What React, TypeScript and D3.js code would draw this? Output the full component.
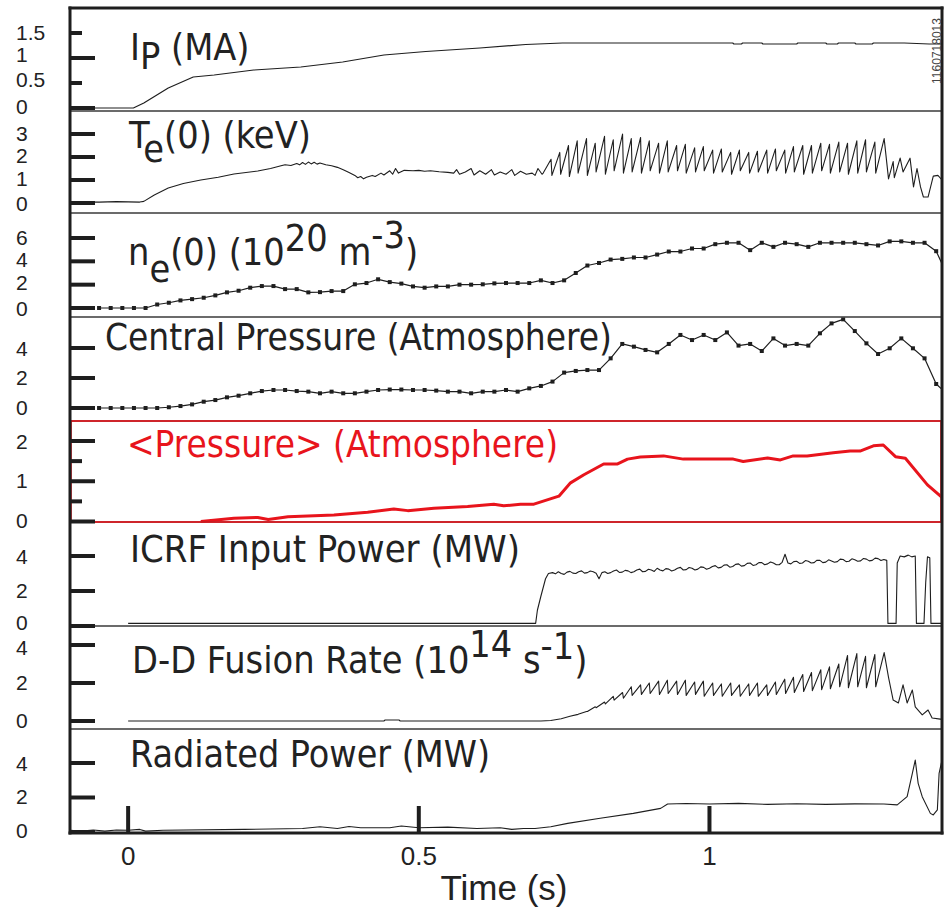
import React from "react";
import * as d3 from "d3";

// ---------------- data ----------------
const ipData: [number, number][] = [
  [-0.1, 0], [0.009, 0], [0.027, 0.1], [0.069, 0.4], [0.112, 0.62], [0.148, 0.66], [0.216, 0.76],
  [0.297, 0.82], [0.369, 0.92], [0.44, 1.06], [0.512, 1.13], [0.605, 1.2], [0.684, 1.27], [0.747, 1.3],
  [1.04, 1.3], [1.042, 1.28], [1.055, 1.28], [1.057, 1.3], [1.09, 1.3], [1.092, 1.28], [1.15, 1.28],
  [1.152, 1.3], [1.2, 1.3], [1.202, 1.28], [1.22, 1.28], [1.222, 1.3], [1.25, 1.3], [1.252, 1.28],
  [1.28, 1.28], [1.282, 1.3], [1.335, 1.3], [1.378, 1.28], [1.4, 1.28],
];

const teLead: [number, number][] = [
  [-0.1, 0.05], [-0.05, 0.04], [-0.02, 0.06], [0.0, 0.05], [0.02, 0.04], [0.027, 0.07], [0.045, 0.35],
  [0.069, 0.65], [0.095, 0.85], [0.125, 1.0], [0.155, 1.12], [0.182, 1.26], [0.223, 1.39], [0.245, 1.5],
  [0.263, 1.62], [0.27, 1.66], [0.28, 1.63], [0.29, 1.72], [0.295, 1.66], [0.3, 1.76], [0.305, 1.68],
  [0.31, 1.78], [0.315, 1.7], [0.32, 1.77], [0.325, 1.69], [0.33, 1.74], [0.34, 1.66], [0.35, 1.62],
  [0.36, 1.55], [0.37, 1.45], [0.38, 1.33], [0.39, 1.2], [0.395, 1.1], [0.4, 1.15], [0.405, 1.05],
  [0.41, 1.12], [0.42, 1.2], [0.425, 1.15], [0.435, 1.3], [0.44, 1.22], [0.45, 1.4], [0.455, 1.25],
  [0.46, 1.5], [0.465, 1.3], [0.475, 1.42], [0.49, 1.4], [0.5, 1.42], [0.51, 1.38], [0.52, 1.4],
  [0.535, 1.36], [0.55, 1.33], [0.56, 1.3], [0.565, 1.45], [0.57, 1.25], [0.58, 1.35], [0.59, 1.5],
  [0.595, 1.22], [0.605, 1.4], [0.615, 1.25], [0.625, 1.45], [0.63, 1.22], [0.64, 1.35], [0.65, 1.25],
  [0.66, 1.45], [0.665, 1.2], [0.675, 1.38], [0.685, 1.25], [0.695, 1.3], [0.7, 1.2], [0.705, 1.5],
  [0.712, 1.25],
];

// sawtooth crash times (s)
const sawCrash = [
  0.714, 0.729, 0.744, 0.759, 0.774, 0.79, 0.805, 0.821, 0.836, 0.852, 0.867, 0.883, 0.898, 0.914,
  0.929, 0.945, 0.96, 0.976, 0.991, 1.007, 1.022, 1.038, 1.053, 1.069, 1.084, 1.1, 1.115, 1.131,
  1.146, 1.162, 1.177, 1.193, 1.208, 1.224, 1.239, 1.255, 1.27, 1.286, 1.302,
];
const tePeak = [
  1.9, 2.2, 2.5, 2.7, 2.8, 2.6, 2.9, 2.75, 3.0, 2.8, 2.85, 2.7, 2.6, 2.7, 2.5, 2.55, 2.4, 2.45, 2.3,
  2.35, 2.2, 2.3, 2.2, 2.25, 2.3, 2.35, 2.3, 2.45, 2.5, 2.5, 2.6, 2.55, 2.65, 2.6, 2.7, 2.75, 2.65, 2.8,
];
const teTrough = [
  1.3, 1.2, 1.25, 1.15, 1.3, 1.2, 1.35, 1.25, 1.4, 1.3, 1.35, 1.3, 1.4, 1.3, 1.35, 1.4, 1.3, 1.35, 1.4,
  1.3, 1.35, 1.25, 1.4, 1.3, 1.35, 1.3, 1.4, 1.3, 1.35, 1.25, 1.3, 1.4, 1.3, 1.35, 1.25, 1.3, 1.35, 1.3,
];
const teTail: [number, number][] = [
  [1.308, 1.05], [1.316, 1.8], [1.318, 1.1], [1.328, 1.95], [1.333, 1.35], [1.345, 1.95], [1.351, 0.7],
  [1.357, 1.5], [1.363, 0.7], [1.368, 0.26], [1.376, 0.26], [1.385, 1.17], [1.393, 1.2], [1.4, 1.0],
];

// Thomson profile times (s)
const profT = [
  -0.05, -0.03, -0.01, 0.01, 0.03, 0.05, 0.07, 0.09, 0.11, 0.13, 0.15, 0.17, 0.19, 0.21, 0.23, 0.25,
  0.27, 0.29, 0.31, 0.33, 0.35, 0.37, 0.39, 0.41, 0.43, 0.45, 0.47, 0.49, 0.51, 0.53, 0.55, 0.57, 0.59,
  0.61, 0.63, 0.65, 0.67, 0.69, 0.71, 0.73, 0.75, 0.77, 0.79, 0.81, 0.83, 0.85, 0.87, 0.89, 0.91, 0.93,
  0.95, 0.97, 0.99, 1.01, 1.03, 1.05, 1.07, 1.09, 1.11, 1.13, 1.15, 1.17, 1.19, 1.21, 1.23, 1.25, 1.27,
  1.29, 1.31, 1.33, 1.35, 1.37, 1.39,
];
const neV = [
  0, 0, 0, 0, 0, 0.3, 0.45, 0.65, 0.76, 0.88, 1.08, 1.34, 1.48, 1.74, 1.88, 1.88, 1.62, 1.62, 1.34, 1.36,
  1.45, 1.45, 2.03, 2.14, 2.46, 2.22, 2.09, 1.85, 1.74, 1.85, 1.85, 2.0, 2.0, 2.03, 2.11, 2.14, 2.14,
  2.14, 2.37, 2.14, 2.37, 3.0, 3.64, 3.86, 4.15, 4.21, 4.33, 4.33, 4.58, 4.84, 4.84, 5.1, 5.1, 5.47,
  5.59, 5.59, 4.96, 5.59, 5.24, 5.59, 5.47, 5.24, 5.59, 5.59, 5.59, 5.59, 5.47, 5.36, 5.71, 5.71, 5.59,
  5.59, 4.87,
];
const neEnd: [number, number] = [1.4, 3.8];
const cpV = [
  0, 0, 0, 0, 0, 0, 0.05, 0.13, 0.24, 0.42, 0.53, 0.71, 0.82, 0.98, 1.13, 1.2, 1.2, 1.13, 1.09, 0.98,
  1.09, 0.98, 0.98, 1.09, 1.2, 1.23, 1.23, 1.2, 1.2, 1.16, 1.09, 1.09, 0.98, 1.09, 1.09, 1.2, 1.09, 1.31,
  1.47, 1.76, 2.36, 2.47, 2.53, 2.53, 3.31, 4.27, 4.09, 3.87, 3.71, 4.27, 4.87, 4.53, 4.87, 4.53, 5.04,
  4.16, 4.27, 3.8, 4.64, 4.16, 4.27, 4.16, 4.98, 5.64, 5.91, 5.13, 4.31, 3.6, 3.98, 4.64, 3.98, 3.31, 1.6,
];
const cpEnd: [number, number] = [1.4, 1.24];

const pavgData: [number, number][] = [
  [0.125, 0], [0.182, 0.08], [0.223, 0.1], [0.241, 0.05], [0.275, 0.12], [0.354, 0.16], [0.412, 0.23],
  [0.457, 0.31], [0.481, 0.27], [0.526, 0.33], [0.584, 0.37], [0.629, 0.43], [0.646, 0.39], [0.675, 0.43],
  [0.698, 0.43], [0.741, 0.63], [0.761, 0.96], [0.784, 1.16], [0.818, 1.43], [0.842, 1.43], [0.859, 1.55],
  [0.881, 1.6], [0.921, 1.63], [0.955, 1.55], [1.041, 1.55], [1.058, 1.49], [1.1, 1.58], [1.122, 1.53],
  [1.144, 1.63], [1.168, 1.63], [1.213, 1.71], [1.242, 1.75], [1.259, 1.75], [1.282, 1.88], [1.299, 1.9],
  [1.32, 1.61], [1.337, 1.57], [1.375, 0.91], [1.4, 0.6],
];

const icrfData: [number, number][] = [
  [0, 0.15], [0.701, 0.15], [0.704, 0.9], [0.71, 1.7], [0.718, 2.7], [0.723, 3.0],
  [0.73, 3.05], [0.735, 2.98], [0.74, 3.1], [0.745, 3.0], [0.75, 2.95], [0.755, 3.08], [0.76, 3.12],
  [0.765, 3.02], [0.77, 3.0], [0.775, 3.1], [0.78, 3.15], [0.785, 3.02], [0.79, 3.05], [0.795, 3.14],
  [0.8, 3.1], [0.805, 3.02], [0.81, 2.7], [0.815, 3.05], [0.82, 3.1], [0.825, 3.0], [0.83, 3.05],
  [0.835, 3.14], [0.84, 3.2], [0.845, 3.06], [0.85, 3.08], [0.855, 3.18], [0.86, 3.15], [0.865, 3.05],
  [0.87, 3.1], [0.875, 3.2], [0.88, 3.25], [0.885, 3.1], [0.89, 3.12], [0.895, 3.24], [0.9, 3.2],
  [0.905, 3.12], [0.91, 3.3], [0.915, 3.2], [0.92, 3.15], [0.925, 3.28], [0.93, 3.25], [0.935, 3.14],
  [0.94, 3.2], [0.945, 3.3], [0.95, 3.35], [0.955, 3.2], [0.96, 3.22], [0.965, 3.34], [0.97, 3.3],
  [0.975, 3.2], [0.98, 3.25], [0.985, 3.38], [0.99, 3.35], [0.995, 3.24], [1.0, 3.3], [1.005, 3.4],
  [1.01, 3.45], [1.015, 3.32], [1.02, 3.35], [1.025, 3.48], [1.03, 3.5], [1.035, 3.36], [1.04, 3.4],
  [1.045, 3.52], [1.05, 3.55], [1.055, 3.42], [1.06, 3.45], [1.065, 3.58], [1.07, 3.6], [1.075, 3.46],
  [1.08, 3.5], [1.085, 3.62], [1.09, 3.62], [1.095, 3.5], [1.1, 3.55], [1.105, 3.66], [1.11, 3.6],
  [1.115, 3.5], [1.12, 3.5], [1.125, 3.64], [1.13, 4.1], [1.135, 3.6], [1.14, 3.55], [1.145, 3.68],
  [1.15, 3.7], [1.155, 3.58], [1.16, 3.6], [1.165, 3.74], [1.17, 3.7], [1.175, 3.6], [1.18, 3.62],
  [1.185, 3.76], [1.19, 3.75], [1.195, 3.62], [1.2, 3.65], [1.205, 3.78], [1.21, 3.72], [1.215, 3.64],
  [1.22, 3.68], [1.225, 3.82], [1.23, 3.8], [1.235, 3.68], [1.24, 3.7], [1.245, 3.84], [1.25, 3.78],
  [1.255, 3.7], [1.26, 3.72], [1.265, 3.86], [1.27, 3.82], [1.275, 3.72], [1.28, 3.75], [1.285, 3.88],
  [1.29, 3.85], [1.295, 3.74], [1.3, 3.8], [1.305, 3.75], [1.307, 0.15], [1.321, 0.15], [1.323, 3.6],
  [1.328, 4.0], [1.335, 3.95], [1.342, 4.05], [1.348, 3.95], [1.354, 4.0], [1.356, 0.15], [1.369, 0.15],
  [1.372, 2.5], [1.375, 3.95], [1.379, 3.9], [1.381, 0.15], [1.4, 0.15],
];

const ddLead: [number, number][] = [
  [0, 0], [0.44, 0], [0.442, 0.05], [0.466, 0.05], [0.468, 0], [0.71, 0], [0.727, 0.03], [0.745, 0.12],
  [0.76, 0.25],
];
const ddPeak = [
  0.5, 0.75, 1.0, 1.3, 1.5, 1.8, 1.9, 2.0, 2.1, 2.15, 2.1, 2.15, 2.05, 2.1, 2.0, 1.95, 2.0, 1.9, 1.95, 2.0,
  1.9, 2.05, 2.2, 2.3, 2.45, 2.55, 2.7, 2.85, 3.0, 3.45, 3.55, 3.4, 3.5, 3.6,
];
const ddTrough = [
  0.35, 0.5, 0.7, 0.9, 1.1, 1.2, 1.35, 1.4, 1.45, 1.4, 1.45, 1.4, 1.35, 1.4, 1.3, 1.35, 1.3, 1.35, 1.3,
  1.35, 1.3, 1.35, 1.4, 1.45, 1.5, 1.55, 1.6, 1.65, 1.7, 1.8, 1.75, 1.8, 1.75, 1.8,
];
const ddTail: [number, number][] = [
  [1.308, 2.3], [1.316, 1.1], [1.325, 0.95], [1.333, 1.9], [1.34, 0.95], [1.349, 1.63], [1.354, 0.74],
  [1.366, 0.32], [1.376, 0.58], [1.383, 0.16], [1.397, 0.1], [1.4, 0.1],
];

const pradData: [number, number][] = [
  [-0.1, 0.1], [-0.08, 0.05], [-0.06, 0.12], [-0.04, 0.05], [-0.02, 0.12], [0.0, 0.1], [0.02, 0.15],
  [0.03, 0.05], [0.06, 0.1], [0.2, 0.15], [0.3, 0.2], [0.33, 0.3], [0.36, 0.2], [0.38, 0.32], [0.4, 0.25],
  [0.45, 0.25], [0.47, 0.35], [0.5, 0.25], [0.55, 0.28], [0.6, 0.2], [0.64, 0.25], [0.66, 0.15],
  [0.68, 0.2], [0.7, 0.2], [0.727, 0.3], [0.756, 0.5], [0.812, 0.8], [0.869, 1.08], [0.916, 1.37],
  [0.928, 1.62], [0.96, 1.65], [1.0, 1.62], [1.05, 1.66], [1.1, 1.6], [1.15, 1.64], [1.2, 1.6],
  [1.25, 1.63], [1.3, 1.62], [1.323, 1.57], [1.34, 2.05], [1.349, 3.4], [1.354, 4.17], [1.359, 2.82],
  [1.366, 2.05], [1.38, 1.08], [1.385, 0.99], [1.392, 1.28], [1.395, 3.4], [1.4, 4.17],
];

const xTicks = [0, 0.5, 1];
const xTickLabels = ["0", "0.5", "1"];

// ---------------- helpers ----------------
function sawtooth(crash: number[], peaks: number[], troughs: number[]): [number, number][] {
  const pts: [number, number][] = [];
  for (let i = 0; i < peaks.length; i++) {
    pts.push([crash[i], troughs[i]]);
    pts.push([crash[i + 1] - 0.0015, peaks[i]]);
  }
  return pts;
}

const TF = "'DejaVu Sans Condensed', 'DejaVu Sans', sans-serif";
const AF = "'Liberation Sans', Arial, sans-serif";
const INK = "#1e1e1e";
const RED = "#e8141c";

type Panel = {
  top: number;
  bottom: number;
  y0: number;
  y1: number;
  max: number;
  major: number[];
  minor: number[];
  labels: string[];
  labelVals: number[];
  labelDy: number[];
};

const panels: Panel[] = [
  { top: 8, bottom: 111, y0: 108, y1: 33, max: 1.5, major: [0, 1], minor: [0.5, 1.5], labels: ["0", "0.5", "1", "1.5"], labelVals: [0, 0.5, 1, 1.5], labelDy: [-2, -4, -4, -1] },
  { top: 111, bottom: 213, y0: 203, y1: 134, max: 3, major: [0, 1, 2, 3], minor: [], labels: ["0", "1", "2", "3"], labelVals: [0, 1, 2, 3], labelDy: [0, -2, -2, -1] },
  { top: 213, bottom: 317, y0: 308, y1: 238, max: 6, major: [0, 2, 4, 6], minor: [], labels: ["0", "2", "4", "6"], labelVals: [0, 2, 4, 6], labelDy: [0, -2, -2, -1] },
  { top: 317, bottom: 421, y0: 408, y1: 348, max: 4, major: [0, 2, 4], minor: [], labels: ["0", "2", "4"], labelVals: [0, 2, 4], labelDy: [-1, -1, 0] },
  { top: 421, bottom: 522, y0: 521.5, y1: 441, max: 2, major: [0, 1, 2], minor: [0.5, 1.5], labels: ["0", "1", "2"], labelVals: [0, 1, 2], labelDy: [-1, -1, 0] },
  { top: 522, bottom: 626, y0: 626, y1: 556, max: 4, major: [0, 2, 4], minor: [], labels: ["0", "2", "4"], labelVals: [0, 2, 4], labelDy: [-4, -1, 0] },
  { top: 626, bottom: 729, y0: 721, y1: 645, max: 4, major: [0, 2, 4], minor: [], labels: ["0", "2", "4"], labelVals: [0, 2, 4], labelDy: [-1, -1, 2] },
  { top: 729, bottom: 833, y0: 832, y1: 763, max: 4, major: [0, 2, 4], minor: [], labels: ["0", "2", "4"], labelVals: [0, 2, 4], labelDy: [-2, -1, 0] },
];

export default function App() {
  const L = 70;
  const R = 942;
  const x = d3.scaleLinear().domain([-0.1, 1.4]).range([L, R]);
  const ys = panels.map((p) => d3.scaleLinear().domain([0, p.max]).range([p.y0, p.y1]));

  const mkLine = (i: number) =>
    d3
      .line<[number, number]>()
      .x((d) => x(d[0]))
      .y((d) => ys[i](d[1]));

  const teData = [...teLead, ...sawtooth(sawCrash, tePeak, teTrough), ...teTail];
  const ddData = [...ddLead, ...sawtooth(sawCrash.slice(4), ddPeak, ddTrough), ...ddTail];
  const neData: [number, number][] = profT.map((t, i) => [t, neV[i]]);
  const cpData: [number, number][] = profT.map((t, i) => [t, cpV[i]]);

  const traces: { i: number; data: [number, number][]; color: string; w: number }[] = [
    { i: 0, data: ipData, color: INK, w: 1.2 },
    { i: 1, data: teData, color: INK, w: 1.1 },
    { i: 2, data: [...neData, neEnd], color: INK, w: 1.2 },
    { i: 3, data: [...cpData, cpEnd], color: INK, w: 1.2 },
    { i: 4, data: pavgData, color: RED, w: 3 },
    { i: 5, data: icrfData, color: INK, w: 1.1 },
    { i: 6, data: ddData, color: INK, w: 1.1 },
    { i: 7, data: pradData, color: INK, w: 1.1 },
  ];

  const titleProps = { fontFamily: TF, fontStretch: "condensed", fontSize: 37.5, fill: "#222" } as any;

  return (
    <svg
      width={948}
      height={916}
      viewBox="0 0 948 916"
      style={{ position: "absolute", left: 0, top: 0, background: "#fff" }}
    >
      <rect x={0} y={0} width={948} height={916} fill="#fff" />

      {/* traces */}
      {traces.map((tr) => (
        <path
          key={"tr" + tr.i}
          d={mkLine(tr.i)(tr.data) || ""}
          fill="none"
          stroke={tr.color}
          strokeWidth={tr.w}
          strokeLinejoin="round"
        />
      ))}

      {/* markers for profile data */}
      {neData.map((d, k) => (
        <rect key={"ne" + k} x={x(d[0]) - 2} y={ys[2](d[1]) - 2} width={4} height={4} fill={INK} />
      ))}
      {cpData.map((d, k) => (
        <rect key={"cp" + k} x={x(d[0]) - 2} y={ys[3](d[1]) - 2} width={4} height={4} fill={INK} />
      ))}

      {/* panel separators */}
      {panels.slice(1).map((p, k) => (
        <line key={"sep" + k} x1={L} x2={R} y1={p.top} y2={p.top} stroke="#3a3a3a" strokeWidth={1.4} />
      ))}
      {/* red frame of the <Pressure> panel */}
      <rect x={L + 1} y={panels[4].top} width={R - L - 2} height={panels[4].bottom - panels[4].top} fill="none" stroke={RED} strokeWidth={1.6} />

      {/* y ticks and labels */}
      {panels.map((p, i) => (
        <g key={"yax" + i}>
          {p.major.map((v) => (
            <line key={"M" + v} x1={L} x2={95} y1={ys[i](v)} y2={ys[i](v)} stroke={INK} strokeWidth={4} />
          ))}
          {p.minor.map((v) => (
            <line key={"m" + v} x1={L} x2={82} y1={ys[i](v)} y2={ys[i](v)} stroke={INK} strokeWidth={4} />
          ))}
          {p.labelVals.map((v, k) => (
            <text
              key={"l" + v}
              x={16}
              y={ys[i](v) + p.labelDy[k]}
              fontFamily={AF}
              fontSize={21}
              fill="#222"
              dominantBaseline="central"
            >
              {p.labels[k]}
            </text>
          ))}
        </g>
      ))}

      {/* frame */}
      <line x1={L} x2={L} y1={6.5} y2={834.5} stroke={INK} strokeWidth={3} />
      <line x1={R} x2={R} y1={6.5} y2={834.5} stroke={INK} strokeWidth={3} />
      <line x1={L - 1.5} x2={R + 1.5} y1={8} y2={8} stroke={INK} strokeWidth={3} />
      <line x1={L - 1.5} x2={R + 1.5} y1={833} y2={833} stroke={INK} strokeWidth={3} />

      {/* x ticks */}
      {xTicks.map((t, k) => (
        <g key={"xt" + k}>
          <line x1={x(t)} x2={x(t)} y1={833} y2={806} stroke={INK} strokeWidth={4} />
          <text x={x(t)} y={865} textAnchor="middle" fontFamily={AF} fontSize={26} fill="#222">
            {xTickLabels[k]}
          </text>
        </g>
      ))}
      <text x={504} y={900} textAnchor="middle" fontFamily={AF} fontSize={35} fill="#222">
        Time (s)
      </text>

      {/* shot number */}
      <text
        transform="translate(937,51) rotate(-90)"
        textAnchor="middle"
        dominantBaseline="central"
        fontFamily={AF}
        fontSize={12}
        fill="#444"
      >
        1160718013
      </text>

      {/* panel titles */}
      <text x={130} y={60} {...titleProps}>
        I<tspan dy={9}>P</tspan>
        <tspan dy={-9}>{" (MA)"}</tspan>
      </text>
      <text x={129} y={148} {...titleProps}>
        T<tspan dy={14}>e</tspan>
        <tspan dy={-14}>{"(0) (keV)"}</tspan>
      </text>
      <text x={128} y={265} {...titleProps}>
        n<tspan dy={17}>e</tspan>
        <tspan dy={-17}>{"(0) (10"}</tspan>
        <tspan dy={-14}>20</tspan>
        <tspan dy={14}>{" m"}</tspan>
        <tspan dy={-17}>-3</tspan>
        <tspan dy={17}>)</tspan>
      </text>
      <text x={105} y={350} {...titleProps} textLength={507} lengthAdjust="spacingAndGlyphs">
        Central Pressure (Atmosphere)
      </text>
      <text x={127} y={457} {...titleProps} fill={RED} textLength={431} lengthAdjust="spacingAndGlyphs">
        {"<Pressure> (Atmosphere)"}
      </text>
      <text x={130} y={562} {...titleProps} textLength={390} lengthAdjust="spacingAndGlyphs">
        ICRF Input Power (MW)
      </text>
      <text x={132} y={673} {...titleProps}>
        {"D-D Fusion Rate (10"}
        <tspan dy={-16}>14</tspan>
        <tspan dy={16}>{" s"}</tspan>
        <tspan dy={-14}>-1</tspan>
        <tspan dy={14}>)</tspan>
      </text>
      <text x={130} y={767} {...titleProps} textLength={360} lengthAdjust="spacingAndGlyphs">
        Radiated Power (MW)
      </text>
    </svg>
  );
}
